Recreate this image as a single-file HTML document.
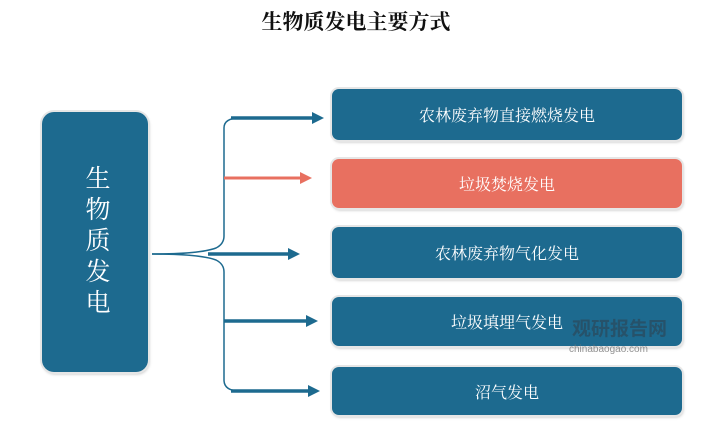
<!DOCTYPE html>
<html><head><meta charset="utf-8"><style>
body{margin:0;background:#fff;width:712px;height:434px;position:relative;overflow:hidden;font-family:"Liberation Serif","Noto Serif CJK SC",serif;}
.t{position:absolute;left:0;width:712px;top:6px;text-align:center;font-size:21px;font-weight:bold;color:#111;}
.b{position:absolute;left:332px;width:350px;border-radius:7px;background:#1d6a8f;color:#fff;font-size:16px;display:flex;align-items:center;justify-content:center;box-shadow:0 0 0 2px #e6e6e6,1px 2px 3px #bbb;}
.l{position:absolute;left:42px;top:112px;width:106px;height:260px;border-radius:12px;background:#1d6a8f;color:#fff;font-size:25px;display:flex;align-items:center;justify-content:center;writing-mode:vertical-rl;letter-spacing:6px;box-shadow:0 0 0 2px #e6e6e6,1px 2px 3px #bbb;}
</style></head><body>
<div class="t">生物质发电主要方式</div>
<div class="l">生物质发电</div>
<div class="b" style="top:89px;height:51px">农林废弃物直接燃烧发电</div>
<div class="b" style="top:159px;height:49px;background:#e87060">垃圾焚烧发电</div>
<div class="b" style="top:227px;height:51px">农林废弃物气化发电</div>
<div class="b" style="top:297px;height:49px">垃圾填埋气发电</div>
<div class="b" style="top:367px;height:48px">沼气发电</div>
<svg width="712" height="434" style="position:absolute;left:0;top:0">
<g fill="none" stroke="#1d6a8f" stroke-width="1.5">
<path d="M152,254 Q200,254 216,248 Q224,244 224,236 L224,128 Q224,118 240,118"/>
<path d="M152,254 Q200,254 216,260 Q224,264 224,272 L224,380 Q224,391 240,391"/>
</g>
<g stroke="#1d6a8f" stroke-width="3.5">
<line x1="231" y1="118" x2="314" y2="118"/>
<line x1="208" y1="254" x2="290" y2="254"/>
<line x1="224" y1="321" x2="308" y2="321"/>
<line x1="231" y1="391" x2="310" y2="391"/>
</g>
<line x1="224" y1="178" x2="302" y2="178" stroke="#e87060" stroke-width="3"/>
<g fill="#1d6a8f">
<polygon points="312,112 324,118 312,124"/>
<polygon points="288,248 300,254 288,260"/>
<polygon points="306,315 318,321 306,327"/>
<polygon points="308,385 320,391 308,397"/>
</g>
<polygon points="300,172 312,178 300,184" fill="#e87060"/>
<text x="572" y="335" font-size="19" font-weight="bold" fill="#2a4b5e" opacity="0.75" font-family="Liberation Sans,Noto Sans CJK SC,sans-serif">观研报告网</text>
<text x="569" y="352" font-size="10" fill="#777" opacity="0.8" font-family="Liberation Sans,sans-serif">chinabaogao.com</text>
</svg>
</body></html>
